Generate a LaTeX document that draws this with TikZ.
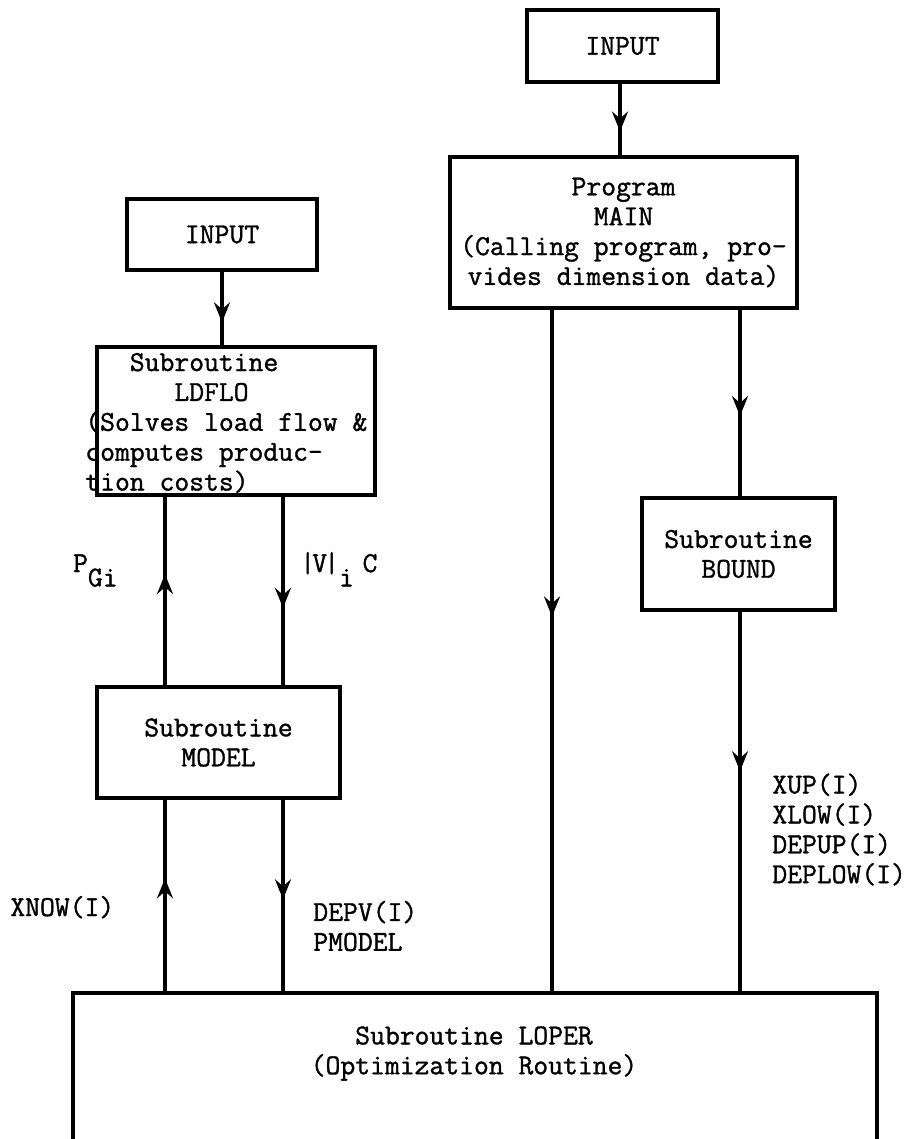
\documentclass[tikz,border=0pt]{standalone}
\usepackage{fontspec}
\setmonofont{Latin Modern Mono}[FakeBold=1.2]
\usetikzlibrary{arrows.meta,decorations.markings}
\newcommand{\tw}{\ttfamily\fontsize{16.4}{17}\selectfont}
\tikzset{
  box/.style   ={draw=black, line width=2.3pt, inner sep=0pt, align=center, font=\tw},
  txt/.style   ={font=\tw, inner sep=0pt},
  ln/.style    ={draw=black, line width=2pt},
  midarr/.style={ln, postaction={decorate},
    decoration={markings, mark=at position #1 with {\arrow{Stealth[length=0.4cm,width=0.32cm,inset=0.14cm]}}}},
}

\begin{document}
\begin{tikzpicture}
  \useasboundingbox (0,0) rectangle (18.26,-22.78);
  \coordinate (cA) at (3.30,0);
  \coordinate (cB) at (5.66,0);
  \coordinate (cC) at (11.04,0);
  \coordinate (cD) at (14.80,0);
  \coordinate (cE) at (12.40,0);
  \node[box, minimum width=3.82cm, minimum height=1.44cm] (inR) at (12.45,-0.92) {INPUT};
  \node[box, minimum width=6.94cm, minimum height=3.02cm] (main) at (12.47,-4.65)
    {Program\\MAIN\\(Calling program, pro-\\vides dimension data)};
  \node[box, minimum width=3.86cm, minimum height=2.24cm] (bound) at (14.77,-11.08) {Subroutine\\BOUND};
  \node[box, minimum width=3.80cm, minimum height=1.42cm] (inL) at (4.44,-4.69) {INPUT};
  \node[box, minimum width=5.56cm, minimum height=2.96cm] (ldflo) at (4.72,-8.42) {};
  \node[txt, align=left, anchor=west] (ldflotxt) at (1.70,-8.46)
    {\phantom{xxx}Subroutine\\\phantom{xxxxxx}LDFLO\\(Solves load flow \&\\computes produc-\\tion costs)};
  \node[box, minimum width=4.86cm, minimum height=2.22cm] (model) at (4.37,-14.85) {Subroutine\\MODEL};
  \node[box, minimum width=16.08cm, minimum height=3.4cm, anchor=north] (loper) at (9.5,-19.82) {};
  \node[txt, align=center] (lopertxt) at (9.48,-21.07) {Subroutine LOPER\\(Optimization Routine)};

  \draw[midarr=0.67] (inR.south -| cE) -- (main.north -| cE);
  \draw[midarr=0.69] (inL.south) -- (inL.south |- ldflo.north);
  \draw[midarr=0.59] (model.north -| cA) -- (ldflo.south -| cA);
  \draw[midarr=0.59] (ldflo.south -| cB) -- (model.north -| cB);
  \draw[midarr=0.59] (loper.north -| cA) -- (model.south -| cA);
  \draw[midarr=0.52] (model.south -| cB) -- (loper.north -| cB);
  \draw[midarr=0.45] (main.south -| cC) -- (loper.north -| cC);
  \draw[midarr=0.57] (main.south -| cD) -- (bound.north -| cD);
  \draw[midarr=0.42] (bound.south -| cD) -- (loper.north -| cD);

  \node[txt, anchor=base east] (pgi) at (2.36,-11.44) {P\raisebox{-0.5em}{Gi}};
  \node[txt, anchor=base west] (vic) at (6.00,-11.44)
    {|\kern-0.1em V\kern-0.1em|\raisebox{-0.5em}{i}\hspace{0.3em}C};
  \node[txt, anchor=base west] (xnow) at (0.20,-18.32) {XNOW(I)};
  \node[txt, align=left, anchor=west] (depv) at (6.26,-18.52) {DEPV(I)\\PMODEL};
  \node[txt, align=left, anchor=west] (xup) at (15.44,-16.59) {XUP(I)\\XLOW(I)\\DEPUP(I)\\DEPLOW(I)};
\end{tikzpicture}
\end{document}
